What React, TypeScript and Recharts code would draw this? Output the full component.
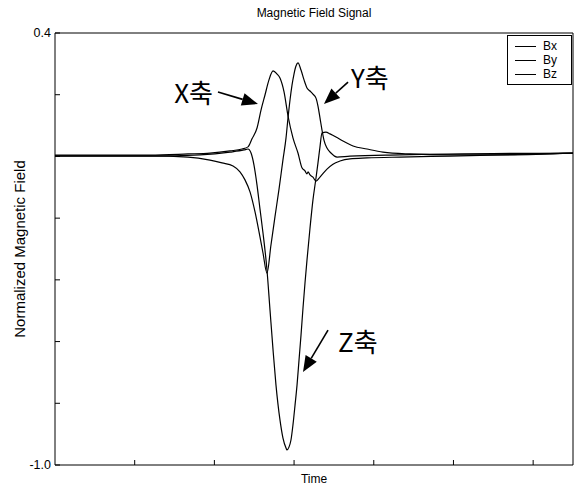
import { LineChart, Line, XAxis, YAxis, Legend, ReferenceLine } from 'recharts';

const FONT = '"Liberation Sans", Arial, Helvetica, sans-serif';
const KFONT = '"Noto Sans CJK KR", "Noto Sans", sans-serif';

// Bx: positive lobe first, small undershoot afterwards
const bxTime = [0, 119.2, 166.9, 194.5, 219.6, 234.7, 242.2, 247.2, 253.5, 258.5, 263.5, 268.5, 273.6, 278.6, 282.3, 287.4, 292.4, 298.6, 304.9, 309.9, 313.7, 316.2, 317.5, 320, 323.7, 327.5, 332.5, 341.3, 348.8, 357.6, 370.2, 391.5, 432.9, 495.7, 650];
const bxValue = [0.004, 0.004, 0.008, 0.011, 0.018, 0.024, 0.031, 0.057, 0.092, 0.15, 0.199, 0.248, 0.277, 0.267, 0.254, 0.209, 0.131, 0.06, 0.011, -0.037, -0.047, -0.057, -0.05, -0.06, -0.067, -0.08, -0.067, -0.041, -0.025, -0.015, -0.008, -0.005, -0.002, 0.001, 0.011];

// By: negative dip then positive peak with a shoulder
const byTime = [0, 119.2, 166.9, 194.5, 209.6, 223.4, 232.1, 238.4, 244.7, 251, 257.2, 261, 266, 271, 276, 281.1, 286, 289.9, 292.4, 294.9, 297.4, 299.9, 302.4, 304.9, 308.7, 312.5, 316.2, 320, 323.7, 327.5, 330, 332.5, 335, 337.5, 341.3, 346.3, 353.9, 370.2, 432.9, 650];
const byValue = [0.002, 0.002, -0.002, -0.012, -0.021, -0.031, -0.05, -0.076, -0.115, -0.18, -0.261, -0.313, -0.378, -0.287, -0.196, -0.106, -0.012, 0.06, 0.125, 0.183, 0.231, 0.267, 0.293, 0.303, 0.28, 0.248, 0.222, 0.212, 0.202, 0.189, 0.163, 0.125, 0.086, 0.053, 0.027, 0.011, -0.002, 0.001, 0.005, 0.011];

// Bz: large negative trough with an overshoot on the way back
const bzTime = [0, 119.2, 182, 219.6, 237.2, 242.2, 246, 249.7, 253.5, 257.2, 261, 266, 269.8, 273.6, 277.3, 282.3, 286, 289.9, 291.1, 293.6, 296.1, 298.6, 301.2, 303.7, 306.2, 308.7, 311.2, 313.7, 316.2, 320, 323.7, 327.5, 330, 332.5, 335, 340, 345.1, 352.6, 361.4, 374, 391.5, 411.6, 445.5, 495.7, 558.4, 650];
const bzValue = [0.001, 0.001, 0.005, 0.014, 0.021, 0.024, 0.011, -0.028, -0.093, -0.17, -0.248, -0.368, -0.498, -0.627, -0.741, -0.854, -0.912, -0.945, -0.951, -0.942, -0.919, -0.87, -0.806, -0.741, -0.66, -0.579, -0.491, -0.41, -0.336, -0.232, -0.141, -0.07, -0.021, 0.031, 0.076, 0.079, 0.073, 0.063, 0.05, 0.034, 0.024, 0.014, 0.008, 0.005, 0.005, 0.011];

const xTicks = [100, 200, 300, 400, 500, 600];
const yTicks = [0.4, 0.2, 0, -0.2, -0.4, -0.6, -0.8, -1.0];
const yLabelled = [0.4, -1.0];

const zip = (t: number[], v: number[]) => t.map((time, i) => ({ time, value: v[i] }));
const bx = zip(bxTime, bxValue);
const by = zip(byTime, byValue);
const bz = zip(bzTime, bzValue);

// arrow annotations: tail -> head in data units, text offset in px from tail
const notes = [
  { text: 'X축', from: { x: 204.5, y: 0.209 }, to: { x: 254.7, y: 0.17 }, dx: -5, dy: 0, anchor: 'end' },
  { text: 'Y축', from: { x: 367.7, y: 0.241 }, to: { x: 337.5, y: 0.17 }, dx: 3, dy: -6, anchor: 'start' },
  { text: 'Z축', from: { x: 342.6, y: -0.563 }, to: { x: 311.2, y: -0.699 }, dx: 10, dy: 10, anchor: 'start' },
];

const arrowShape = (n: typeof notes[number]) => (p: any) => {
  const { x1, y1, x2, y2 } = p;
  const ang = Math.atan2(y2 - y1, x2 - x1);
  const len = 16;
  const half = 6.5;
  const bx0 = x2 - len * Math.cos(ang);
  const by0 = y2 - len * Math.sin(ang);
  const px = -Math.sin(ang) * half;
  const py = Math.cos(ang) * half;
  return (
    <g>
      <line x1={x1} y1={y1} x2={bx0} y2={by0} stroke="#000" strokeWidth={1.6} />
      <polygon points={`${x2},${y2} ${bx0 + px},${by0 + py} ${bx0 - px},${by0 - py}`} fill="#000" />
      <text x={x1 + n.dx} y={y1 + n.dy} textAnchor={n.anchor} dominantBaseline="central" fontSize={26} fontFamily={KFONT} fill="#000">
        {n.text}
      </text>
    </g>
  );
};

function LeftTick(props: any) {
  const { x, y, payload } = props;
  const v = payload.value;
  return (
    <g>
      <line x1={x} y1={y} x2={x + 5} y2={y} stroke="#000" />
      {yLabelled.includes(v) && (
        <text x={x - 4} y={y} dy={4} textAnchor="end" fontSize={12.5} fontFamily={FONT} fill="#000">
          {v.toFixed(1)}
        </text>
      )}
    </g>
  );
}

function RightTick(props: any) {
  const { x, y } = props;
  return <line x1={x} y1={y} x2={x - 5} y2={y} stroke="#000" />;
}

function BottomTick(props: any) {
  const { x, y } = props;
  return <line x1={x} y1={y} x2={x} y2={y - 5} stroke="#000" />;
}

function TopTick(props: any) {
  const { x, y } = props;
  return <line x1={x} y1={y} x2={x} y2={y + 5} stroke="#000" />;
}

function LegendBox(props: any) {
  const { payload = [] } = props;
  return (
    <div
      style={{
        border: '1px solid #000',
        background: '#fff',
        padding: '3px 0',
        fontFamily: FONT,
        fontSize: 12,
        color: '#000',
        boxSizing: 'border-box',
        width: 65,
      }}
    >
      {payload.map((entry: any) => (
        <div key={entry.value} style={{ display: 'flex', alignItems: 'center', height: 14 }}>
          <span style={{ display: 'inline-block', width: 21, borderTop: '1px solid #000', margin: '0 7px 0 7px' }} />
          <span>{entry.value}</span>
        </div>
      ))}
    </div>
  );
}

export default function App() {
  return (
    <div style={{ position: 'absolute', left: 0, top: 0, background: '#fff' }}>
      <LineChart width={578} height={487} margin={{ top: 32, right: 4, bottom: 0, left: 0 }}>
        <XAxis
          dataKey="time"
          type="number"
          domain={[0, 650]}
          ticks={xTicks}
          interval={0}
          height={22}
          tickSize={0}
          tickMargin={0}
          tickLine={false}
          tick={BottomTick}
          axisLine={{ stroke: '#000' }}
          label={{ value: 'Time', position: 'insideBottom', offset: 4, fontSize: 12, fontFamily: FONT, fill: '#000' }}
        />
        <XAxis
          xAxisId="top"
          orientation="top"
          type="number"
          domain={[0, 650]}
          ticks={xTicks}
          interval={0}
          height={1}
          tickSize={0}
          tickMargin={0}
          tickLine={false}
          tick={TopTick}
          axisLine={{ stroke: '#000' }}
          label={{ value: 'Magnetic Field Signal', position: 'top', offset: 15, fontSize: 12, fontFamily: FONT, fill: '#000' }}
        />
        <YAxis
          type="number"
          domain={[-1, 0.4]}
          ticks={yTicks}
          interval={0}
          width={55}
          tickSize={0}
          tickMargin={0}
          tickLine={false}
          tick={LeftTick}
          axisLine={{ stroke: '#000' }}
          label={{
            value: 'Normalized Magnetic Field',
            angle: -90,
            position: 'insideLeft',
            offset: 20,
            fontSize: 15,
            fontFamily: FONT,
            fill: '#000',
            style: { textAnchor: 'middle' },
          }}
        />
        <YAxis
          yAxisId="right"
          orientation="right"
          type="number"
          domain={[-1, 0.4]}
          ticks={yTicks}
          interval={0}
          width={1}
          tickSize={0}
          tickMargin={0}
          tickLine={false}
          tick={RightTick}
          axisLine={{ stroke: '#000' }}
        />
        <Legend
          layout="vertical"
          align="center"
          verticalAlign="middle"
          content={LegendBox}
          wrapperStyle={{ position: 'absolute', top: 35, left: 507, width: 65, height: 'auto' }}
        />
        <Line data={bx} dataKey="value" name="Bx" type="monotone" stroke="#000" strokeWidth={1.2} dot={false} isAnimationActive={false} />
        <Line data={by} dataKey="value" name="By" type="monotone" stroke="#000" strokeWidth={1.2} dot={false} isAnimationActive={false} />
        <Line data={bz} dataKey="value" name="Bz" type="monotone" stroke="#000" strokeWidth={1.2} dot={false} isAnimationActive={false} />
        {notes.map((n) => (
          <ReferenceLine key={n.text} segment={[n.from, n.to]} shape={arrowShape(n)} />
        ))}
      </LineChart>
    </div>
  );
}
